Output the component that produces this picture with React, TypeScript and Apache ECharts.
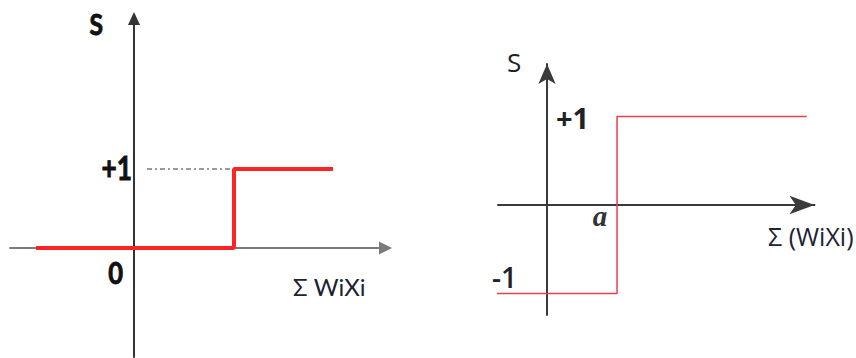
import React, { useEffect, useRef } from "react";
import * as echarts from "echarts";

// Unit step (threshold at 1): output 0 below, +1 above
const stepBinary: [number, number][] = [
  [-0.98, 0],
  [1, 0],
  [1, 1],
  [1.99, 1],
];
// Guide from the S axis to the +1 level
const guideBinary: [number, number][] = [
  [0.13, 1],
  [1, 1],
];
// Signed step (threshold at a = 1): output -1 below, +1 above
const stepSigned: [number, number][] = [
  [-1.13, -1],
  [1, -1],
  [1, 1],
  [3.71, 1],
];

const leftLabels = { y: "S", top: "+1", origin: "0", x: "Σ WiXi" };
const rightLabels = { y: "S", top: "+1", bottom: "-1", threshold: "a", x: "Σ (WiXi)" };

const hiddenAxisParts = {
  axisTick: { show: false },
  axisLabel: { show: false },
  splitLine: { show: false },
};

export default function App() {
  const ref = useRef<HTMLDivElement>(null);

  useEffect(() => {
    if (!ref.current) return;
    const chart = echarts.init(ref.current, undefined, { renderer: "svg" });

    const calibri = "Lato, 'Open Sans', sans-serif";
    const segoe = "'Open Sans', 'Noto Sans', sans-serif";
    // heavy condensed labels get a thin outline to thicken the strokes
    const heavy = { fill: "#111", stroke: "#111", lineWidth: 0.9 };

    chart.setOption({
      animation: false,
      backgroundColor: "#ffffff",
      grid: [
        { left: 10, right: 470.5, top: 18.5, bottom: 1 },
        { left: 498, right: 41.5, top: 64, bottom: 43 },
      ],
      xAxis: [
        {
          type: "value",
          gridIndex: 0,
          min: -1.24,
          max: 2.515,
          axisLine: {
            onZero: true,
            lineStyle: { color: "#7a7a7a", width: 2 },
            symbol: ["none", "triangle"],
            symbolSize: [13, 13],
          },
          ...hiddenAxisParts,
        },
        {
          type: "value",
          gridIndex: 1,
          min: -0.7,
          max: 3.82,
          axisLine: {
            onZero: true,
            lineStyle: { color: "#3a3a3a", width: 2 },
            symbol: ["none", "arrow"],
            symbolSize: [14, 25],
          },
          ...hiddenAxisParts,
        },
      ],
      yAxis: [
        {
          type: "value",
          gridIndex: 0,
          min: -1.38,
          max: 2.905,
          axisLine: {
            onZero: true,
            lineStyle: { color: "#333333", width: 2 },
            symbol: ["none", "triangle"],
            symbolSize: [12, 13],
          },
          ...hiddenAxisParts,
        },
        {
          type: "value",
          gridIndex: 1,
          min: -1.243,
          max: 1.593,
          axisLine: {
            onZero: true,
            lineStyle: { color: "#3a3a3a", width: 2 },
            symbol: ["none", "arrow"],
            symbolSize: [13, 20],
          },
          ...hiddenAxisParts,
        },
      ],
      series: [
        {
          type: "line",
          xAxisIndex: 0,
          yAxisIndex: 0,
          data: guideBinary,
          showSymbol: false,
          lineStyle: { color: "#9a9a9a", width: 2, type: [5, 3, 2, 3] },
          z: 3,
        },
        {
          type: "line",
          xAxisIndex: 0,
          yAxisIndex: 0,
          data: stepBinary,
          showSymbol: false,
          lineStyle: { color: "#ff2424", width: 4 },
          z: 4,
        },
        {
          type: "line",
          xAxisIndex: 1,
          yAxisIndex: 1,
          data: stepSigned,
          showSymbol: false,
          clip: false,
          lineStyle: { color: "#e8404c", width: 1.5 },
          z: 4,
        },
      ],
      graphic: [
        // left panel texts (condensed bold face)
        {
          type: "text",
          x: 103,
          y: 24,
          scaleX: 0.85,
          style: {
            text: leftLabels.y,
            font: `bold 29px ${calibri}`,
            ...heavy,
            align: "right",
            verticalAlign: "middle",
          },
        },
        {
          type: "text",
          x: 132,
          y: 167,
          scaleX: 0.82,
          style: {
            text: leftLabels.top,
            font: `bold 32px ${calibri}`,
            ...heavy,
            align: "right",
            verticalAlign: "middle",
          },
        },
        {
          type: "text",
          x: 123,
          y: 273,
          scaleX: 0.85,
          style: {
            text: leftLabels.origin,
            font: `bold 30px ${calibri}`,
            ...heavy,
            align: "right",
            verticalAlign: "middle",
          },
        },
        {
          type: "text",
          x: 293,
          y: 286,
          style: {
            text: leftLabels.x,
            font: `24px ${calibri}`,
            fill: "#1c2333",
            align: "left",
            verticalAlign: "middle",
          },
        },
        // right panel texts
        {
          type: "text",
          x: 507,
          y: 62,
          style: {
            text: rightLabels.y,
            font: `26px ${segoe}`,
            fill: "#222",
            align: "left",
            verticalAlign: "middle",
          },
        },
        {
          type: "text",
          x: 556,
          y: 117,
          style: {
            text: rightLabels.top,
            font: `bold 29px ${segoe}`,
            fill: "#222",
            align: "left",
            verticalAlign: "middle",
          },
        },
        {
          type: "text",
          x: 492,
          y: 277,
          style: {
            text: rightLabels.bottom,
            font: `600 28px ${segoe}`,
            fill: "#222",
            align: "left",
            verticalAlign: "middle",
          },
        },
        {
          type: "text",
          x: 600,
          y: 216,
          style: {
            text: rightLabels.threshold,
            font: `italic 600 29px 'Liberation Serif', 'DejaVu Serif', serif`,
            fill: "#333",
            align: "center",
            verticalAlign: "middle",
          },
        },
        {
          type: "text",
          x: 768,
          y: 236,
          style: {
            text: rightLabels.x,
            font: `25px ${segoe}`,
            fill: "#1c2333",
            align: "left",
            verticalAlign: "middle",
          },
        },
      ],
    });

    return () => chart.dispose();
  }, []);

  return (
    <div
      ref={ref}
      style={{ position: "absolute", left: 0, top: 0, width: 856, height: 358 }}
    />
  );
}
